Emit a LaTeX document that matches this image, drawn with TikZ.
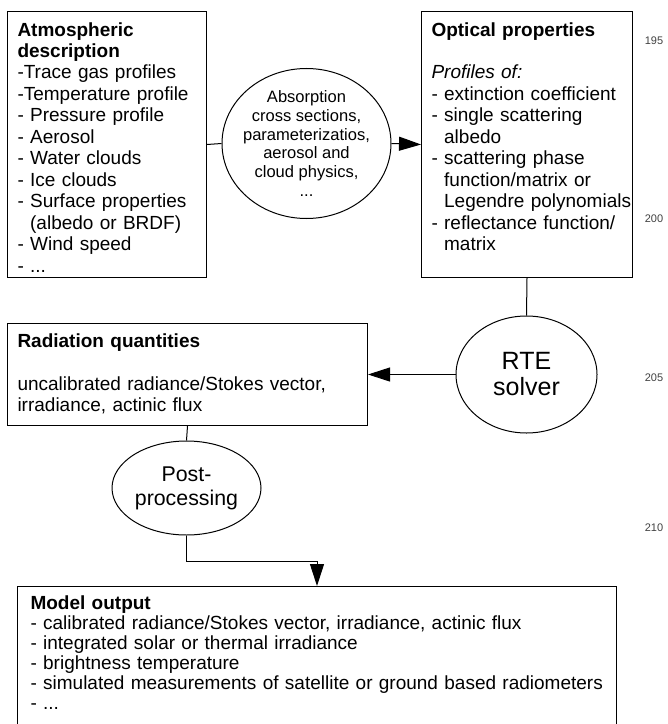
\documentclass[tikz,border=0pt]{standalone}
\usepackage{fontspec}
\setmainfont{Liberation Sans}
\usetikzlibrary{shapes.geometric,arrows.meta}

\begin{document}
\begin{tikzpicture}[x=0.75pt,y=-0.75pt]
\tikzstyle{every node}=[font=\fontsize{14.25pt}{16.1pt}\selectfont]
\tikzstyle{box}=[draw,line width=0.75pt,anchor=north west,align=left,inner xsep=7.5pt,inner ysep=0pt,text height=18.4pt]
\tikzstyle{blob}=[ellipse,draw,line width=0.75pt,inner sep=-6pt,align=center]
\tikzstyle{link}=[line width=0.75pt]
\tikzstyle{arr}=[link,-{Triangle[length=16.5pt,width=10.5pt]}]
\tikzstyle{lineno}=[font=\fontsize{8.25pt}{10pt}\selectfont,text=black!75]
\useasboundingbox (0,0) rectangle (667,724);

\node[box,text width=134.25pt,text depth=181.1pt] (atmos) at (7,11)
 {\textbf{Atmospheric}\\
  \textbf{description}\\
  -Trace gas profiles\\
  -Temperature profile\\
  - Pressure profile\\
  - Aerosol\\
  - Water clouds\\
  - Ice clouds\\
  - Surface properties\\
  \phantom{- }(albedo or BRDF)\\
  - Wind speed\\
  - ...};
\node[blob,minimum width=126.75pt,minimum height=112.5pt,font=\fontsize{12.4pt}{14.1pt}\selectfont] (absorp) at (306.5,143.5)
 {Absorption\\cross sections,\\parameterizatios,\\aerosol and\\cloud physics,\\...};
\node[box,text width=143.25pt,text depth=181.1pt] (optical) at (421,11)
 {\textbf{Optical properties}\\[16.1pt]
  \textit{Profiles of:}\\
  - extinction coefficient\\
  - single scattering\\
  \phantom{- }albedo\\
  - scattering phase\\
  \phantom{- }function/matrix or\\
  \mbox{\phantom{- }Legendre polynomials}\\
  - reflectance function/\\
  \phantom{- }matrix};
\node[blob,minimum width=105.75pt,minimum height=87.75pt,font=\fontsize{18.75pt}{19.5pt}\selectfont] (rte) at (526.5,374.5)
 {RTE\\solver};
\node[box,text width=255pt,text height=18pt,text depth=58.5pt] (radq) at (7,323)
 {\textbf{Radiation quantities}\\[16.1pt]
  uncalibrated radiance/Stokes vector,\\
  irradiance, actinic flux};
\node[blob,minimum width=111.75pt,minimum height=70.5pt,font=\fontsize{16pt}{18pt}\selectfont] (post) at (186.5,488)
 {Post-\\processing};
\node[box,inner xsep=9.75pt,text width=429.75pt,text height=17.25pt,text depth=89.25pt,font=\fontsize{14.25pt}{15pt}\selectfont] (model) at (17,586)
 {\textbf{Model output}\\
  - calibrated radiance/Stokes vector, irradiance, actinic flux\\
  - integrated solar or thermal irradiance\\
  - brightness temperature\\
  - simulated measurements of satellite or ground based radiometers\\
  - ...};

\node[lineno] (n195) at (654,41) {195};
\node[lineno] (n200) at (654,219) {200};
\node[lineno] (n205) at (654,378) {205};
\node[lineno] (n210) at (654,528) {210};

\draw[link] (atmos.east) -- (absorp.west);
\draw[arr] (absorp.east) -- (optical.west);
\draw[link] (optical.south) -- (rte.north);
\draw[arr] (rte.west) -- (radq.east);
\draw[link] (radq.south) -- (post.north);
\draw[arr] (post.south) -- ++(0,26) -| (model.north);
\end{tikzpicture}
\end{document}
